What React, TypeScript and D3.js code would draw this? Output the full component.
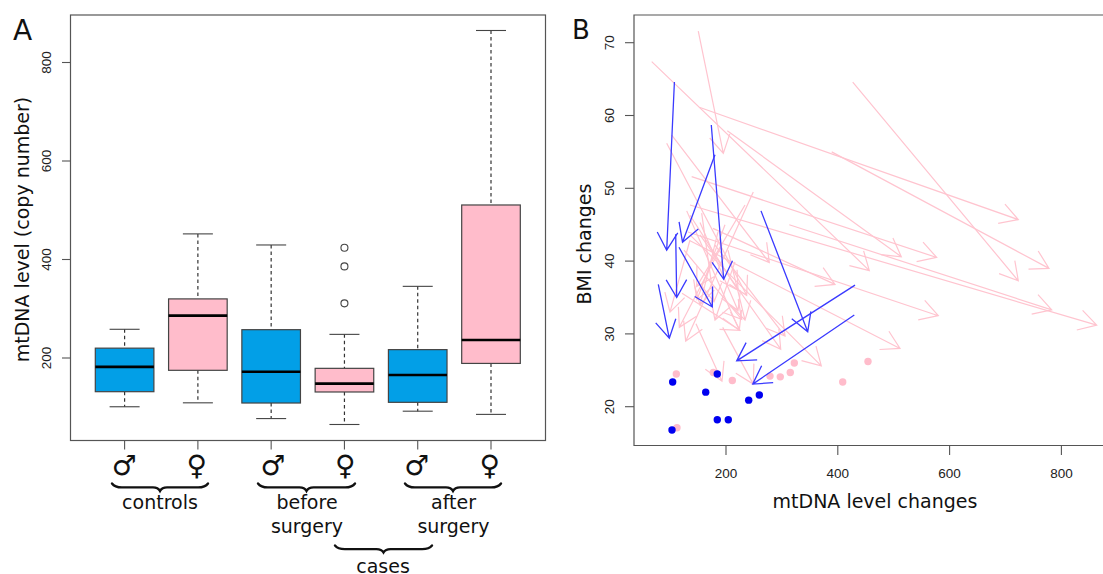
import React from "react";
import * as d3 from "d3";

const groups = ["controls M", "controls F", "before M", "before F", "after M", "after F"];
const sexes = ["male", "female", "male", "female", "male", "female"];
const symbolNudge = [-0.3, -1.2, 2, 0.9, -1, -1.2];
const whiskerLow = [101, 109, 77, 65, 92, 85.5];
const boxLow = [131.6, 175, 108.6, 131, 110, 189];
const medians = [182, 286, 172, 148, 165.5, 236.5];
const boxHigh = [220, 320, 257.5, 179, 217, 510.7];
const whiskerHigh = [258.3, 452, 429.5, 248, 345.5, 865];
const outlierValues = [424, 386, 311];
const yTicksA = [200, 400, 600, 800];

const xTicksB = [200, 400, 600, 800];
const yTicksB = [20, 30, 40, 50, 60, 70];

// each arrow: [mtDNA start, BMI start, mtDNA end, BMI end]
const blueArrows = [
  [107.7, 64.6, 93.9, 41.5],
  [173.7, 58.7, 195.9, 37.5],
  [180.3, 54.6, 122.2, 42.6],
  [110, 43.7, 111.8, 35],
  [115.9, 41.9, 175.5, 33.7],
  [78.9, 36.8, 98.6, 29.4],
  [262.6, 46.9, 346.2, 30.3],
  [430.8, 36.7, 219.1, 26.3],
  [429.5, 32.6, 247.8, 23.1],
];
const pinkArrows = [
  [426.7, 64.6, 722.9, 37.3],
  [153.5, 61.1, 722.9, 45.7],
  [389.1, 55, 777.8, 39],
  [67.1, 67.4, 456.4, 38.7],
  [150.4, 71.6, 195.2, 54.8],
  [202.3, 57.9, 513.6, 40.6],
  [138.6, 51.6, 576.9, 40.5],
  [313.2, 45, 782.7, 33.3],
  [135.6, 47.7, 863.2, 31.2],
  [132, 44, 579.8, 32.5],
  [135.6, 42.8, 511.3, 28],
  [176.7, 44.5, 395, 36.8],
  [146.3, 31.4, 192.8, 23.5],
  [194.1, 30.9, 248.8, 23.1],
  [121.3, 35.6, 225, 30.5],
  [248.8, 49.5, 127.9, 29],
  [192.8, 42.2, 116.5, 30.9],
  [135.6, 42.9, 99.8, 33],
  [102.9, 57.3, 277.5, 39.8],
  [93.9, 56.2, 237, 35.3],
  [124.9, 41.5, 228.1, 32],
  [153.5, 43.6, 297.9, 27.9],
  [180.3, 42.2, 305.6, 29.7],
  [135.6, 43.6, 370.5, 25.6],
  [129.7, 46.9, 223.8, 30.5],
  [156.5, 46.6, 178.5, 34.4],
  [234, 47.7, 147.6, 36.5],
  [198.2, 45, 148.1, 34.7],
  [135.6, 46.3, 221.5, 36],
  [153.5, 45.3, 221.5, 33.2],
  [185.7, 44, 153.5, 34],
  [216, 39.9, 180.3, 31.9],
  [203.6, 41.5, 234, 31.9],
];
const blueDotsX = [104.6, 184.4, 163.7, 259.6, 240.6, 184.4, 204.1, 103.4];
const blueDotsY = [23.4, 24.5, 22, 21.6, 20.9, 18.2, 18.2, 16.8];
const pinkDotsX = [111.1, 177.3, 211.3, 278.7, 297.1, 315, 322.2, 408.8, 454, 112.3];
const pinkDotsY = [24.5, 24.7, 23.6, 24.2, 24.1, 24.7, 26, 23.4, 26.2, 17.1];

const yA = d3.scaleLinear().domain([200, 800]).range([358, 62.5]);
const xA = d3.scalePoint<string>().domain(groups).range([124.6, 491]);
const xB = d3.scaleLinear().domain([200, 800]).range([726, 1061.4]);
const yB = d3.scaleLinear().domain([20, 70]).range([406.7, 42.7]);

const AXIS = "#555";
const SANS = "'DejaVu Sans', sans-serif";
const HELV = "'Liberation Sans', sans-serif";
const MALE_FILL = "#029fe7";
const FEMALE_FILL = "#ffbccb";

function Arrow({ a, color, width }: { a: number[]; color: string; width: number }) {
  const x0 = xB(a[0]), y0 = yB(a[1]), x1 = xB(a[2]), y1 = yB(a[3]);
  const ang = Math.atan2(y0 - y1, x0 - x1);
  const len = 20.5;
  const spread = Math.PI / 6;
  const path = d3.path();
  path.moveTo(x0, y0);
  path.lineTo(x1, y1);
  path.moveTo(x1 + len * Math.cos(ang + spread), y1 + len * Math.sin(ang + spread));
  path.lineTo(x1, y1);
  path.lineTo(x1 + len * Math.cos(ang - spread), y1 + len * Math.sin(ang - spread));
  return <path d={path.toString()} fill="none" stroke={color} strokeWidth={width} />;
}

function Brace({ x0, x1, y, h }: { x0: number; x1: number; y: number; h: number }) {
  const m = (x0 + x1) / 2;
  const line = y + h * 0.55;
  const d = d3.path();
  d.moveTo(x0, y + 0.5);
  d.quadraticCurveTo(x0 + 3, line + 0.3, x0 + 11, line);
  d.lineTo(m - 7, line);
  d.quadraticCurveTo(m - 2, line, m, y + h);
  d.quadraticCurveTo(m + 2, line, m + 7, line);
  d.lineTo(x1 - 11, line);
  d.quadraticCurveTo(x1 - 3, line + 0.3, x1, y + 0.5);
  return <path d={d.toString()} fill="none" stroke="#111" strokeWidth={2.4} strokeLinecap="round" />;
}

function Label({ x, y, children }: { x: number; y: number; children: React.ReactNode }) {
  return (
    <text x={x} y={y} fontFamily={SANS} fontSize={19} textAnchor="middle" fill="#111">
      {children}
    </text>
  );
}

export default function App() {
  const halfBox = 29.3;
  const halfCap = 15;
  return (
    <svg
      width={1103}
      height={574}
      style={{ position: "absolute", left: 0, top: 0, background: "#fff" }}
    >
      {/* Panel A */}
      <text x={13} y={40} fontFamily={SANS} fontSize={28} fill="#111">A</text>
      <text
        transform="translate(28.5,229.5) rotate(-90)"
        fontFamily={SANS}
        fontSize={19}
        textAnchor="middle"
        fill="#111"
      >
        mtDNA level (copy number)
      </text>
      {groups.map((g, i) => {
        const cx = xA(g)!;
        const fill = sexes[i] === "male" ? MALE_FILL : FEMALE_FILL;
        return (
          <g key={g}>
            <line x1={cx} x2={cx} y1={yA(whiskerHigh[i])} y2={yA(boxHigh[i])} stroke="#333" strokeWidth={1.2} strokeDasharray="3.5 3" />
            <line x1={cx} x2={cx} y1={yA(boxLow[i])} y2={yA(whiskerLow[i])} stroke="#333" strokeWidth={1.2} strokeDasharray="3.5 3" />
            <line x1={cx - halfCap} x2={cx + halfCap} y1={yA(whiskerHigh[i])} y2={yA(whiskerHigh[i])} stroke="#444" strokeWidth={1.1} />
            <line x1={cx - halfCap} x2={cx + halfCap} y1={yA(whiskerLow[i])} y2={yA(whiskerLow[i])} stroke="#444" strokeWidth={1.1} />
            <rect x={cx - halfBox} width={halfBox * 2} y={yA(boxHigh[i])} height={yA(boxLow[i]) - yA(boxHigh[i])} fill={fill} stroke="#444" strokeWidth={1.2} />
            <line x1={cx - halfBox} x2={cx + halfBox} y1={yA(medians[i])} y2={yA(medians[i])} stroke="#000" strokeWidth={2.6} />
            <line x1={cx} x2={cx} y1={440.5} y2={449.5} stroke={AXIS} strokeWidth={1.1} />
            <text x={cx + symbolNudge[i]} y={sexes[i] === "male" ? 475 : 475} fontFamily={SANS} fontSize={28} textAnchor="middle" fill="#111">
              {sexes[i] === "male" ? "♂" : "♀"}
            </text>
          </g>
        );
      })}
      {outlierValues.map((v) => (
        <circle key={v} cx={xA(groups[3])!} cy={yA(v)} r={3.5} fill="none" stroke="#444" strokeWidth={1.1} />
      ))}
      <rect x={70.5} y={15} width={475} height={425.5} fill="none" stroke={AXIS} strokeWidth={1.2} />
      {yTicksA.map((t) => (
        <g key={t}>
          <line x1={62} x2={70.5} y1={yA(t)} y2={yA(t)} stroke={AXIS} strokeWidth={1.1} />
          <text transform={`translate(51,${yA(t)}) rotate(-90)`} fontFamily={HELV} fontSize={13.5} textAnchor="middle" fill="#222">
            {t}
          </text>
        </g>
      ))}
      <Brace x0={112} x1={208} y={483} h={8} />
      <Brace x0={258} x1={355} y={483} h={8} />
      <Brace x0={405} x1={501} y={483} h={8} />
      <Brace x0={335} x1={432} y={545} h={7.5} />
      <Label x={160} y={508.5}>controls</Label>
      <Label x={307} y={508.5}>before</Label>
      <Label x={307} y={533}>surgery</Label>
      <Label x={453.5} y={508.5}>after</Label>
      <Label x={453.5} y={533}>surgery</Label>
      <Label x={383} y={573}>cases</Label>

      {/* Panel B */}
      <text x={572} y={39} fontFamily={SANS} fontSize={26} fill="#111">B</text>
      <text
        transform="translate(591,244) rotate(-90)"
        fontFamily={SANS}
        fontSize={19}
        textAnchor="middle"
        fill="#111"
      >
        BMI changes
      </text>
      <text x={875} y={508} fontFamily={SANS} fontSize={19} textAnchor="middle" fill="#111">
        mtDNA level changes
      </text>
      {pinkArrows.map((a, i) => (
        <Arrow key={i} a={a} color="#ffc4cf" width={1.2} />
      ))}
      {pinkDotsX.map((x, i) => (
        <circle key={i} cx={xB(x)} cy={yB(pinkDotsY[i])} r={3.7} fill={FEMALE_FILL} />
      ))}
      {blueDotsX.map((x, i) => (
        <circle key={i} cx={xB(x)} cy={yB(blueDotsY[i])} r={3.7} fill="#0000f0" />
      ))}
      {blueArrows.map((a, i) => (
        <Arrow key={i} a={a} color="#3a3aff" width={1.3} />
      ))}
      <path d="M1104,15H634V445.5H1104" fill="none" stroke={AXIS} strokeWidth={1.2} />
      {xTicksB.map((t) => (
        <g key={t}>
          <line x1={xB(t)} x2={xB(t)} y1={445.5} y2={455} stroke={AXIS} strokeWidth={1.1} />
          <text x={xB(t)} y={478} fontFamily={HELV} fontSize={13.5} textAnchor="middle" fill="#222">
            {t}
          </text>
        </g>
      ))}
      {yTicksB.map((t) => (
        <g key={t}>
          <line x1={625} x2={634} y1={yB(t)} y2={yB(t)} stroke={AXIS} strokeWidth={1.1} />
          <text transform={`translate(614,${yB(t)}) rotate(-90)`} fontFamily={HELV} fontSize={13.5} textAnchor="middle" fill="#222">
            {t}
          </text>
        </g>
      ))}
    </svg>
  );
}
